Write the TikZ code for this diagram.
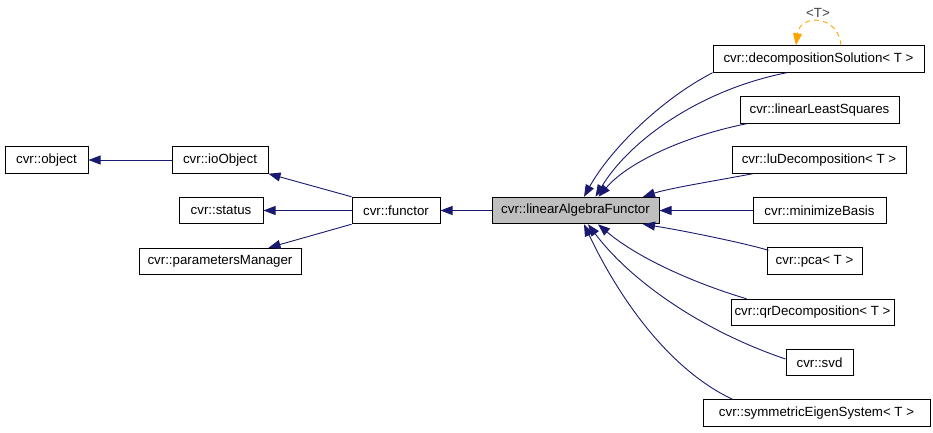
\documentclass[tikz,border=0pt]{standalone}
\usepackage{fontspec}
\setmainfont{Liberation Sans}
\usetikzlibrary{arrows.meta,calc}
\definecolor{edgeblue}{RGB}{25,25,112}
\definecolor{lafgray}{RGB}{191,191,191}
\definecolor{tplorange}{RGB}{255,165,0}
\begin{document}
\begin{tikzpicture}[x=1pt,y=-1pt,
  cls/.style={draw=black, line width=1pt, inner sep=0pt, minimum height=26.5pt, font=\fontsize{13.3}{16}\selectfont},
  edge/.style={draw=edgeblue, line width=0.9pt, -{Triangle[length=12pt,width=9pt,fill=edgeblue]}},
  tpl/.style={draw=tplorange, line width=0.9pt, dash pattern=on 5pt off 4pt, -{Triangle[length=12pt,width=9pt,fill=tplorange]}},
  lbl/.style={inner sep=0pt, text=black!75, font=\fontsize{13.3}{16}\selectfont}]
\useasboundingbox (0,0) rectangle (933,432);
\fill[white] (0,0) rectangle (933,432);

\node[cls, minimum width=83pt] (obj) at (46.5,160) {cvr::object};
\node[cls, minimum width=96pt] (io) at (220,160) {cvr::ioObject};
\node[cls, minimum width=84pt] (st) at (221,210.5) {cvr::status};
\node[cls, minimum width=162pt] (pm) at (220,261.5) {cvr::parametersManager};
\node[cls, minimum width=88pt] (fn) at (396,210.5) {cvr::functor};
\node[cls, fill=lafgray, minimum width=167pt] (laf) at (575.5,210.5) {cvr::linearAlgebraFunctor};
\node[cls, minimum width=211pt] (dec) at (818.5,59) {cvr::decompositionSolution< T >};
\node[cls, minimum width=159pt] (lls) at (819.5,110) {cvr::linearLeastSquares};
\node[cls, minimum width=174pt] (lu) at (819,160) {cvr::luDecomposition< T >};
\node[cls, minimum width=133pt] (mb) at (819.5,210.5) {cvr::minimizeBasis};
\node[cls, minimum width=95pt] (pca) at (814.5,261) {cvr::pca< T >};
\node[cls, minimum width=163pt] (qr) at (812.5,312.5) {cvr::qrDecomposition< T >};
\node[cls, minimum width=67pt] (svd) at (819.5,362.5) {cvr::svd};
\node[cls, minimum width=227pt] (sym) at (816.5,413) {cvr::symmetricEigenSystem< T >};

\draw[edge] (io.west) -- (obj.east);
\draw[edge] (fn.north west) -- (io.south east);
\draw[edge] (fn.west) -- (st.east);
\draw[edge] (fn.south west) -- ($(pm.north east)+(-33,0)$);
\draw[edge] (laf.west) -- (fn.east);

\draw[edge] (dec.south west) .. controls (660,100) and (610,150) .. ($(laf.north)+(8.5,0)$);
\draw[edge] ($(dec.south west)+(74,0)$) .. controls (700,90) and (630,140) .. ($(laf.north)+(20,0)$);
\draw[edge] ($(lls.south west)+(7,0)$) .. controls (690,135) and (630,160) .. ($(laf.north)+(23,0)$);
\draw[edge] ($(lu.south west)+(21,0)$) .. controls (720,180) and (670,188) .. ($(laf.north)+(67.5,0)$);
\draw[edge] (mb.west) -- (laf.east);
\draw[edge] ($(pca.north west)+(2,3)$) .. controls (740,242) and (680,230) .. ($(laf.south)+(67.5,0)$);
\draw[edge] ($(qr.north west)+(16,0)$) .. controls (700,285) and (640,260) .. ($(laf.south)+(22.5,0)$);
\draw[edge] ($(svd.west)+(0,-3.5)$) .. controls (700,330) and (630,280) .. ($(laf.south)+(12.5,0)$);
\draw[edge] ($(sym.north west)+(30,0)$) .. controls (670,370) and (620,300) .. ($(laf.south)+(8.5,0)$);

\draw[tpl] ($(dec.north)+(22.5,0)$) .. controls (838,14) and (800,14) .. ($(dec.north)+(-22.5,0)$);
\node[lbl] (tl) at (818,13) {<T>};
\end{tikzpicture}
\end{document}
